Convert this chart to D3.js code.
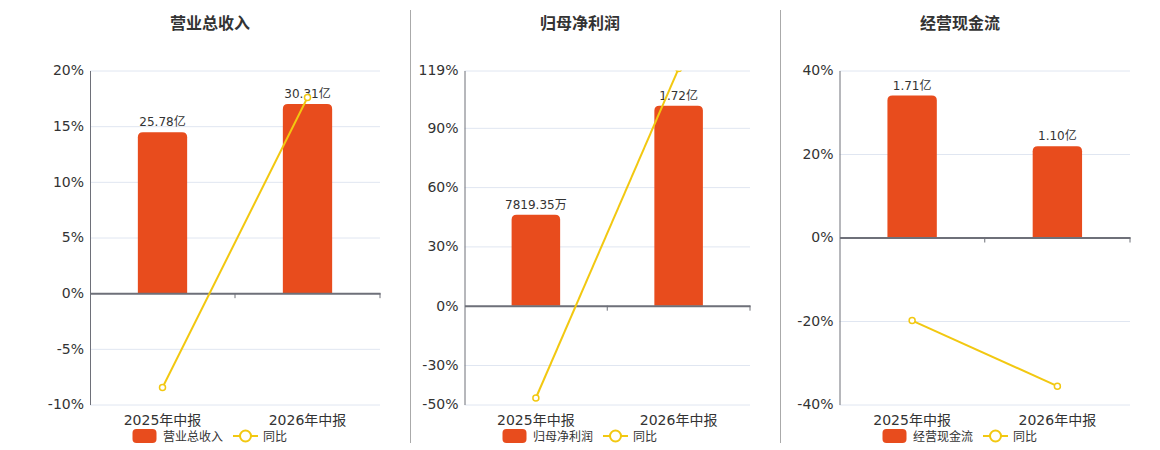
<!DOCTYPE html>
<html>
<head>
<meta charset="utf-8">
<script src="https://cdn.jsdelivr.net/npm/d3@7"></script>
<style>
  body { margin: 0; background: #fff; }
  svg { font-family: "DejaVu Sans", "Noto Sans CJK SC", sans-serif; }
</style>
</head>
<body>
<div id="chart"></div>
<script>
const categories = ['2025年中报', '2026年中报'];
const titles = ['营业总收入', '归母净利润', '经营现金流'];
const barValues = [[25.78, 30.31], [0.781935, 1.72], [1.71, 1.10]];
const barLabels = [['25.78亿', '30.31亿'], ['7819.35万', '1.72亿'], ['1.71亿', '1.10亿']];
const yoyValues = [[-8.47, 17.57], [-46.7, 120.0], [-19.9, -35.6]];
const pctTicks = [[20, 15, 10, 5, 0, -5, -10], [119, 90, 60, 30, 0, -30, -50], [40, 20, 0, -20, -40]];

const width = 1160;
const height = 450;
const barColor = '#e84c1d';
const lineColor = '#f2c811';
const axisColor = '#6e7079';
const gridColor = '#e0e6f1';
const textColor = '#333';

// per panel: plot left/right, centre for title and legend
const panels = [
  { left: 90, right: 380, center: 210 },
  { left: 464.5, right: 750, center: 580 },
  { left: 839.5, right: 1130, center: 960 }
];
const plotTop = 70.5;
const plotBottom = 404.5;
const separators = [410.5, 780.5];

const svg = d3.select('#chart').append('svg')
  .attr('width', width)
  .attr('height', height);

separators.forEach((x) => {
  svg.append('line')
    .attr('x1', x).attr('x2', x)
    .attr('y1', 10).attr('y2', 443)
    .style('stroke', '#aaa')
    .style('stroke-width', 1);
});

panels.forEach((p, i) => {
  const g = svg.append('g').attr('class', `panel${i}`);
  const ticks = pctTicks[i];
  const pMax = d3.max(ticks);
  const pMin = d3.min(ticks);

  const yScale = d3.scaleLinear()
    .domain([pMin, pMax])
    .range([plotBottom, plotTop]);

  const barTop = d3.max(barValues[i]) / 0.85;
  const barScale = d3.scaleLinear()
    .domain([barTop * pMin / pMax, barTop])
    .range([plotBottom, plotTop]);

  const xScale = d3.scaleBand()
    .domain(categories)
    .range([p.left, p.right]);

  const barWidth = xScale.bandwidth() * 0.34;

  // title
  g.append('text')
    .attr('x', p.center)
    .attr('y', 29)
    .attr('text-anchor', 'middle')
    .style('font-size', '16px')
    .style('font-weight', 'bold')
    .style('fill', textColor)
    .text(titles[i]);

  // grid + y labels
  const yAxis = d3.axisLeft(yScale)
    .tickValues(ticks)
    .tickSizeInner(-(p.right - p.left))
    .tickSizeOuter(0)
    .tickPadding(6)
    .tickFormat((d) => `${d}%`);

  const yG = g.append('g')
    .attr('transform', `translate(${p.left},0)`)
    .call(yAxis);
  yG.selectAll('.tick line')
    .style('stroke', gridColor);
  yG.select('.domain')
    .raise()
    .style('stroke', axisColor);
  yG.selectAll('.tick text')
    .style('font-size', '14px')
    .style('fill', textColor)
    .attr('font-family', '"DejaVu Sans", sans-serif');

  // bars
  g.selectAll('.bar')
    .data(barValues[i])
    .enter()
    .append('path')
    .attr('class', 'bar')
    .attr('d', (d, j) => {
      const x0 = xScale(categories[j]) + (xScale.bandwidth() - barWidth) / 2;
      const x1 = x0 + barWidth;
      const y0 = barScale(0);
      const y1 = barScale(d);
      const r = 5;
      return `M${x0},${y0}V${y1 + r}Q${x0},${y1} ${x0 + r},${y1}H${x1 - r}Q${x1},${y1} ${x1},${y1 + r}V${y0}Z`;
    })
    .style('fill', barColor);

  // bar labels
  g.selectAll('.barLabel')
    .data(barValues[i])
    .enter()
    .append('text')
    .attr('class', 'barLabel')
    .attr('x', (d, j) => xScale(categories[j]) + xScale.bandwidth() / 2)
    .attr('y', (d) => barScale(d) - 6)
    .attr('text-anchor', 'middle')
    .style('font-size', '12px')
    .style('fill', textColor)
    .text((d, j) => barLabels[i][j]);

  // x axis at zero
  const xAxis = d3.axisBottom(xScale)
    .tickSize(0)
    .tickFormat('');
  const xG = g.append('g')
    .attr('transform', `translate(0,${yScale(0)})`)
    .call(xAxis);
  xG.select('.domain')
    .style('stroke', axisColor)
    .style('stroke-width', 2);
  xG.selectAll('.tick').remove();

  const boundaries = categories.slice(1).map((c) => xScale(c)).concat([p.right]);
  g.selectAll('.xTick')
    .data(boundaries)
    .enter()
    .append('line')
    .attr('class', 'xTick')
    .attr('x1', (d) => d).attr('x2', (d) => d)
    .attr('y1', yScale(0)).attr('y2', yScale(0) + 5)
    .style('stroke', axisColor);

  // category labels
  g.selectAll('.catLabel')
    .data(categories)
    .enter()
    .append('text')
    .attr('class', 'catLabel')
    .attr('x', (d) => xScale(d) + xScale.bandwidth() / 2)
    .attr('y', 425)
    .attr('text-anchor', 'middle')
    .style('font-size', '14px')
    .style('fill', textColor)
    .text((d) => d);

  // yoy line, clipped to plot
  g.append('clipPath')
    .attr('id', `clip${i}`)
    .append('rect')
    .attr('x', p.left)
    .attr('y', plotTop)
    .attr('width', p.right - p.left)
    .attr('height', plotBottom - plotTop);

  const lineGroup = g.append('g')
    .attr('clip-path', `url(#clip${i})`);

  const yoyLine = d3.line()
    .x((d, j) => xScale(categories[j]) + xScale.bandwidth() / 2)
    .y((d) => yScale(d));

  lineGroup.append('path')
    .datum(yoyValues[i])
    .attr('d', yoyLine)
    .style('stroke', lineColor)
    .style('stroke-width', 2)
    .style('fill', 'none');

  lineGroup.selectAll('.dot')
    .data(yoyValues[i])
    .enter()
    .append('circle')
    .attr('class', 'dot')
    .attr('cx', (d, j) => xScale(categories[j]) + xScale.bandwidth() / 2)
    .attr('cy', (d) => yScale(d))
    .attr('r', 3)
    .style('fill', '#fff')
    .style('stroke', lineColor)
    .style('stroke-width', 1.5);

  // legend
  const lg = g.append('g')
    .attr('transform', `translate(${p.center},436)`);
  lg.append('rect')
    .attr('x', -77.5).attr('y', -7)
    .attr('width', 24).attr('height', 14)
    .attr('rx', 4)
    .style('fill', barColor);
  lg.append('text')
    .attr('x', -47).attr('y', 4.5)
    .style('font-size', '12px')
    .style('fill', textColor)
    .text(titles[i]);
  lg.append('line')
    .attr('x1', 23).attr('x2', 48)
    .attr('y1', 0).attr('y2', 0)
    .style('stroke', lineColor)
    .style('stroke-width', 2);
  lg.append('circle')
    .attr('cx', 35.5).attr('cy', 0).attr('r', 5.5)
    .style('fill', '#fff')
    .style('stroke', lineColor)
    .style('stroke-width', 2);
  lg.append('text')
    .attr('x', 53).attr('y', 4.5)
    .style('font-size', '12px')
    .style('fill', textColor)
    .text('同比');
});
</script>
</body>
</html>
